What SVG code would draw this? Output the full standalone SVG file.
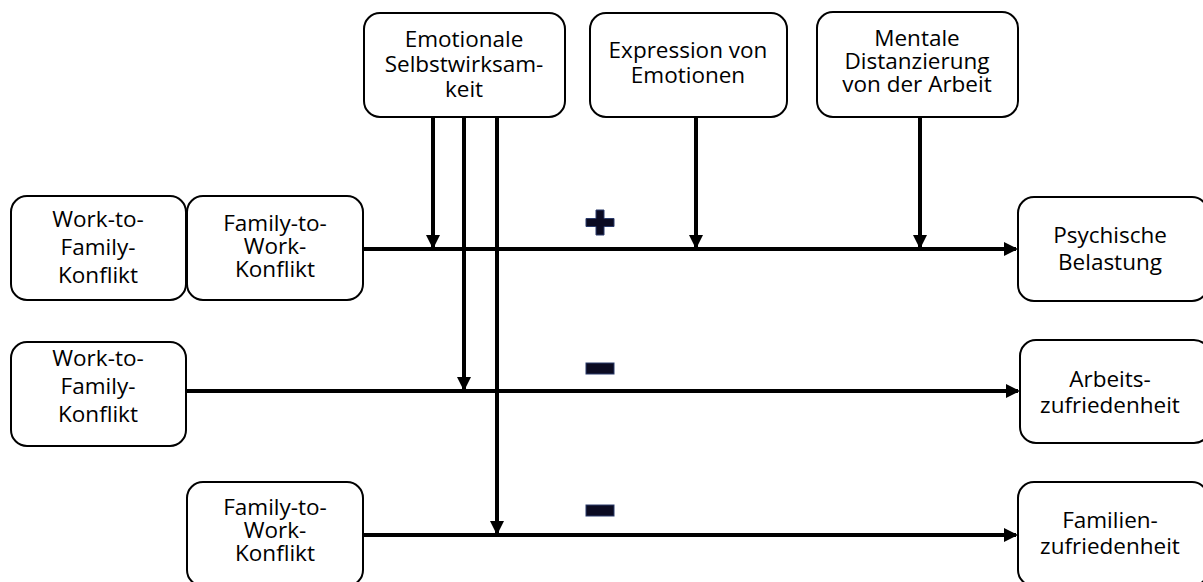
<svg xmlns="http://www.w3.org/2000/svg" width="1203" height="582" viewBox="0 0 1203 582">
<defs>
<marker id="ah" markerWidth="14" markerHeight="14" refX="12" refY="7" orient="auto" markerUnits="userSpaceOnUse">
<path d="M0,0 L14,7 L0,14 Z" fill="#000"/>
</marker>
<style>
.box{fill:#fff;stroke:#000;stroke-width:2}
.t{font-family:"Open Sans","Liberation Sans",sans-serif;font-size:22.5px;fill:#000;text-anchor:middle}
.ln{stroke:#000;stroke-width:4;fill:none}
.sign{fill:#0b0b22;stroke:#2a3a6a;stroke-width:1}
</style>
</defs>
<rect width="1203" height="582" fill="#fff"/>
<g id="connectors">
<path class="ln" d="M363,249 H1016" marker-end="url(#ah)"/>
<path class="ln" d="M186,391 H1018" marker-end="url(#ah)"/>
<path class="ln" d="M363,535 H1016" marker-end="url(#ah)"/>
<path class="ln" d="M433,117 V247" marker-end="url(#ah)"/>
<path class="ln" d="M464,117 V389" marker-end="url(#ah)"/>
<path class="ln" d="M497,117 V533" marker-end="url(#ah)"/>
<path class="ln" d="M696,117 V247" marker-end="url(#ah)"/>
<path class="ln" d="M920,117 V247" marker-end="url(#ah)"/>
</g>
<g id="signs">
<path class="sign" d="M596,210 h8 v8.5 h10 v8 h-10 v8.5 h-8 v-8.5 h-10 v-8 h10 Z"/>
<rect class="sign" x="586" y="363" width="28" height="11"/>
<rect class="sign" x="586" y="505" width="28" height="11"/>
</g>
<g id="emo">
<rect class="box" x="364" y="13" width="201" height="104" rx="16"/>
<text class="t"><tspan x="464" y="47">Emotionale</tspan><tspan x="464" y="72">Selbstwirksam-</tspan><tspan x="464" y="97">keit</tspan></text>
</g>
<g id="expr">
<rect class="box" x="590" y="13" width="197" height="104" rx="16"/>
<text class="t"><tspan x="688" y="58">Expression von</tspan><tspan x="688" y="83">Emotionen</tspan></text>
</g>
<g id="ment">
<rect class="box" x="817" y="12" width="201" height="105" rx="16"/>
<text class="t"><tspan x="917" y="46">Mentale</tspan><tspan x="917" y="69">Distanzierung</tspan><tspan x="917" y="92">von der Arbeit</tspan></text>
</g>
<g id="wtf1">
<rect class="box" x="11" y="196" width="175" height="104" rx="16"/>
<text class="t"><tspan x="98" y="227">Work-to-</tspan><tspan x="98" y="255">Family-</tspan><tspan x="98" y="283">Konflikt</tspan></text>
</g>
<g id="ftw1">
<rect class="box" x="187" y="196" width="176" height="104" rx="16"/>
<text class="t"><tspan x="275" y="231">Family-to-</tspan><tspan x="275" y="254">Work-</tspan><tspan x="275" y="277">Konflikt</tspan></text>
</g>
<g id="wtf2">
<rect class="box" x="11" y="342" width="175" height="104" rx="16"/>
<text class="t"><tspan x="98" y="366">Work-to-</tspan><tspan x="98" y="394">Family-</tspan><tspan x="98" y="422">Konflikt</tspan></text>
</g>
<g id="ftw2">
<rect class="box" x="187" y="482" width="176" height="104" rx="16"/>
<text class="t"><tspan x="275" y="515">Family-to-</tspan><tspan x="275" y="538">Work-</tspan><tspan x="275" y="561">Konflikt</tspan></text>
</g>
<g id="psy">
<rect class="box" x="1018" y="197" width="190" height="104" rx="16"/>
<text class="t"><tspan x="1110" y="243">Psychische</tspan><tspan x="1110" y="270">Belastung</tspan></text>
</g>
<g id="arb">
<rect class="box" x="1020" y="340" width="190" height="103" rx="16"/>
<text class="t"><tspan x="1110" y="387">Arbeits-</tspan><tspan x="1110" y="413">zufriedenheit</tspan></text>
</g>
<g id="fam">
<rect class="box" x="1018" y="482" width="190" height="104" rx="16"/>
<text class="t"><tspan x="1110" y="528">Familien-</tspan><tspan x="1110" y="554">zufriedenheit</tspan></text>
</g>
</svg>
